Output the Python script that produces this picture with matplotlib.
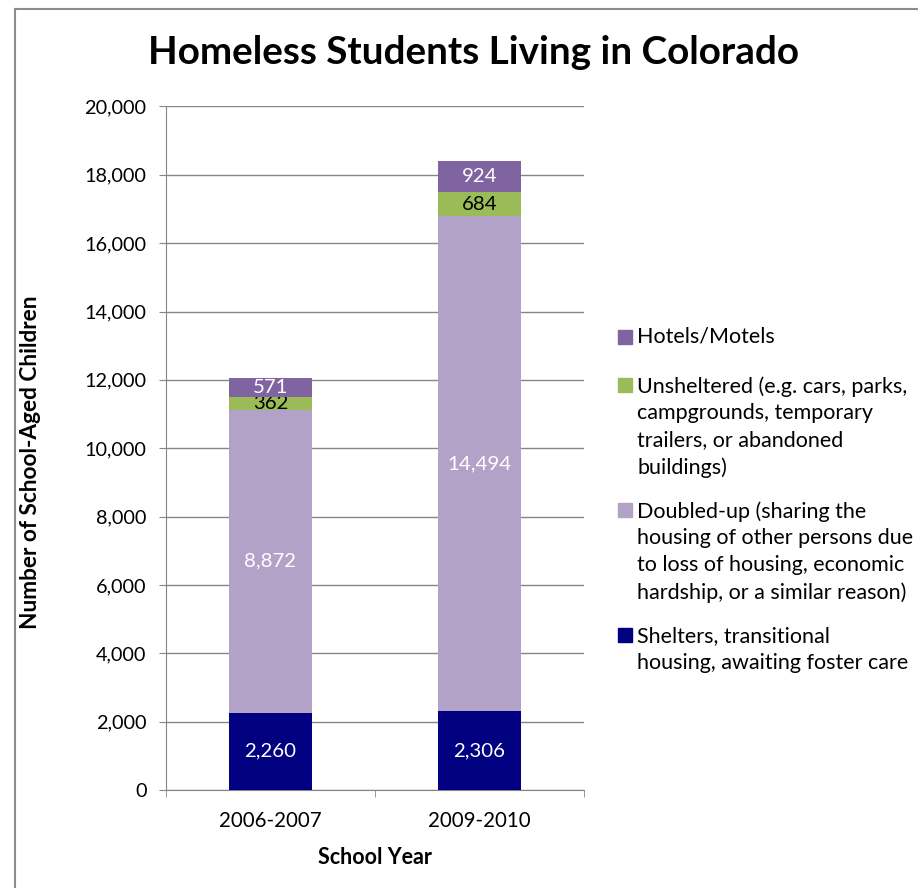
import matplotlib
matplotlib.use('Agg')
import matplotlib.pyplot as plt
import numpy as np
from matplotlib.patches import Rectangle
from matplotlib.lines import Line2D

plt.rcParams['font.family'] = ['Lato', 'DejaVu Sans']

years = ['2006-2007', '2009-2010']
shelters = [2260, 2306]
doubled = [8872, 14494]
unsheltered = [362, 684]
hotels = [571, 924]

series = [
    ('Shelters, transitional\nhousing, awaiting foster care', shelters, '#000080', 'white'),
    ('Doubled-up (sharing the\nhousing of other persons due\nto loss of housing, economic\nhardship, or a similar reason)', doubled, '#B3A2C7', 'white'),
    ('Unsheltered (e.g. cars, parks,\ncampgrounds, temporary\ntrailers, or abandoned\nbuildings)', unsheltered, '#9BBB59', 'black'),
    ('Hotels/Motels', hotels, '#8064A2', 'white'),
]

fig = plt.figure(figsize=(9.18, 8.88), dpi=100)
ax = fig.add_axes([0.1808, 0.1104, 0.4553, 0.7697])

x = np.arange(len(years))
bottom = np.zeros(len(years))
for name, vals, color, tcol in series:
    bars = ax.bar(x, vals, 0.4, bottom=bottom, color=color, zorder=3)
    ax.bar_label(bars, labels=[f'{v:,}' for v in vals], label_type='center',
                 color=tcol, fontsize=14.7)
    bottom += np.array(vals)

ax.set_xlim(-0.5, 1.5)
ax.set_ylim(0, 20000)
ax.set_yticks(range(0, 20001, 2000))
ax.set_yticklabels([f'{v:,}' for v in range(0, 20001, 2000)], fontsize=14.3)
ax.set_xticks(x)
ax.set_xticklabels(years, fontsize=14.8)
ax.set_xticks([-0.5, 0.5, 1.5], minor=True)
ax.tick_params(axis='x', which='major', length=0, pad=15)
ax.tick_params(axis='x', which='minor', length=5, color='#868686')
ax.tick_params(axis='y', length=5, color='#868686', pad=9)
ax.yaxis.grid(True, color='#868686', linewidth=1, zorder=0)
for s in ['top', 'right']:
    ax.spines[s].set_visible(False)
for s in ['left', 'bottom']:
    ax.spines[s].set_color('#868686')

ax.set_xlabel('School Year', fontsize=15.5, fontweight='bold', labelpad=12)
ax.set_ylabel('Number of School-Aged Children', fontsize=16.3, fontweight='bold')
ax.yaxis.set_label_coords(-0.298, 0.48)
fig.text(0.5163, 0.9414, 'Homeless Students Living in Colorado', fontsize=27.8,
         fontweight='bold', ha='center', va='center')

# legend, Excel style (marker next to first line)
mark_y = [0.6205, 0.5664, 0.4257, 0.2849]
top_y = [0.6318, 0.5766, 0.4358, 0.2951]
for (name, vals, color, tcol), my, ty in zip(series[::-1], mark_y, top_y):
    fig.patches.append(Rectangle((0.6735, my - 0.0079), 0.0152, 0.0158, color=color,
                                 transform=fig.transFigure))
    fig.text(0.694, ty, name, fontsize=15.5, va='top', ha='left', linespacing=1.43)

# outer frame (left and top)
fig.add_artist(Line2D([0.016, 0.016], [0, 0.99], color='#8c8c8c', lw=1.5))
fig.add_artist(Line2D([0.016, 1.0], [0.99, 0.99], color='#8c8c8c', lw=1.5))

fig.savefig('out.png', dpi=100)
